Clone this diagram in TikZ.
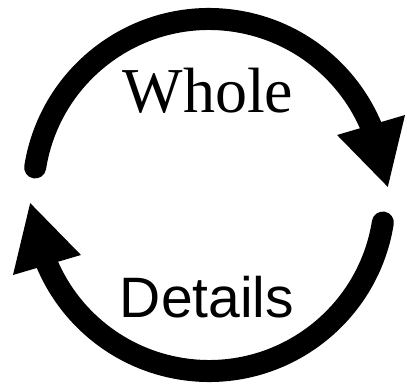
\documentclass[tikz,border=0pt]{standalone}
\usepackage{fontspec}
\newfontfamily\wholefont{Liberation Serif}
\newfontfamily\detailsfont{Liberation Sans}
\begin{document}
\begin{tikzpicture}[x=1pt,y=1pt,
  shaft/.style={line width=22pt, line cap=round, draw=black},
  head/.style={fill=black},
  lbl/.style={inner sep=0pt, anchor=base, text=black}]
\useasboundingbox (0,-387) rectangle (407,0);
\coordinate (C) at (209,-195);
\node[lbl, font=\wholefont\fontsize{64}{64}\selectfont] (whole) at (208,-113) {Whole};
\node[lbl, font=\detailsfont\fontsize{57}{57}\selectfont] (details) at (207,-318) {Details};
% top arc: whole -> details
\coordinate (t1) at ([shift={(171:176)}]C);
\draw[shaft] (t1) arc[start angle=171, end angle=22, radius=176];
\fill[head] ([shift={(25.1:141.4)}]C) -- ([shift={(22.2:211.7)}]C) -- ([shift={(2.6:179)}]C) -- cycle;
% bottom arc: details -> whole
\coordinate (b1) at ([shift={(-9:176)}]C);
\draw[shaft] (b1) arc[start angle=-9, end angle=-158, radius=176];
\fill[head] ([shift={(205.1:141.4)}]C) -- ([shift={(202.2:211.7)}]C) -- ([shift={(182.6:179)}]C) -- cycle;
\end{tikzpicture}
\end{document}
